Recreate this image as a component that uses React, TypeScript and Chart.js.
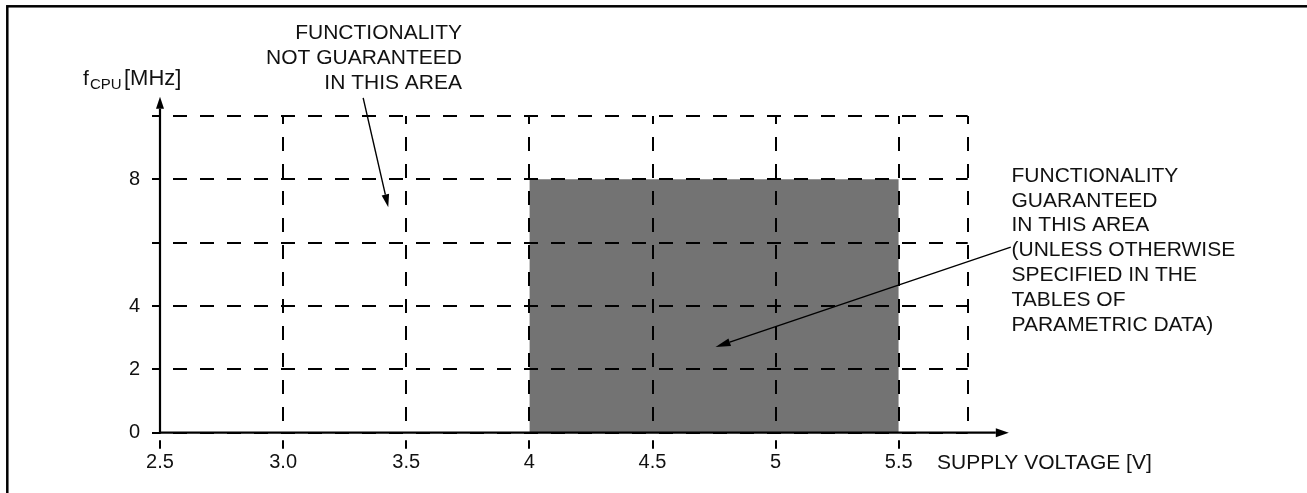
import React, { useEffect, useRef } from "react";
import { Chart, registerables } from "chart.js";

Chart.register(...registerables);

// ---- data ----
const xTickValues = [2.5, 3.0, 3.5, 4, 4.5, 5, 5.5, 5.78];
const xTickLabels = ["2.5", "3.0", "3.5", "4", "4.5", "5", "5.5", ""];
const yTickValues = [0, 2, 4, 6, 8, 10];
const yTickLabels = ["0", "2", "4", "", "8", ""];
const guaranteedVoltage = [4, 5.5];
const guaranteedFreq = [8, 8];
const xAxisEnd = 5.947;
const yAxisEnd = 10.61;
const notGuaranteedText = ["FUNCTIONALITY", "NOT GUARANTEED", "IN THIS AREA"];
const guaranteedText = [
  "FUNCTIONALITY",
  "GUARANTEED",
  "IN THIS AREA",
  "(UNLESS OTHERWISE",
  "SPECIFIED IN THE",
  "TABLES OF",
  "PARAMETRIC DATA)",
];
const notGuaranteedArrow = [
  [3.325, 10.57],
  [3.427, 7.12],
];
const guaranteedArrow = [
  [5.955, 5.86],
  [4.756, 2.706],
];

const FONT = "'Liberation Sans', Arial, Helvetica, sans-serif";
const INK = "#111";

function arrow(ctx: CanvasRenderingContext2D, x1: number, y1: number, x2: number, y2: number, len: number, hw: number, lw: number) {
  const a = Math.atan2(y2 - y1, x2 - x1);
  const bx = x2 - Math.cos(a) * len;
  const by = y2 - Math.sin(a) * len;
  ctx.save();
  ctx.strokeStyle = "#000";
  ctx.fillStyle = "#000";
  ctx.lineWidth = lw;
  ctx.setLineDash([]);
  ctx.beginPath();
  ctx.moveTo(x1, y1);
  ctx.lineTo(bx, by);
  ctx.stroke();
  ctx.beginPath();
  ctx.moveTo(x2, y2);
  ctx.lineTo(bx + Math.sin(a) * hw, by - Math.cos(a) * hw);
  ctx.lineTo(bx - Math.sin(a) * hw, by + Math.cos(a) * hw);
  ctx.closePath();
  ctx.fill();
  ctx.restore();
}

const decorPlugin = {
  id: "decor",
  afterDraw(chart: any) {
    const ctx: CanvasRenderingContext2D = chart.ctx;
    const xs = chart.scales.x;
    const ys = chart.scales.y;
    ctx.save();
    // frame
    ctx.strokeStyle = "#000";
    ctx.lineWidth = 2.5;
    ctx.setLineDash([]);
    ctx.strokeRect(7.3, 6.3, 1320, 520);

    // axes
    const x0 = xs.getPixelForValue(xTickValues[0]);
    const y0 = ys.getPixelForValue(0);
    const xe = xs.getPixelForValue(xAxisEnd);
    const ye = ys.getPixelForValue(yAxisEnd);
    arrow(ctx, x0 - 1, y0, xe, y0, 13, 4.5, 2.2);
    arrow(ctx, x0, y0 + 1, x0, ye, 12, 4, 2.2);

    // x tick marks (short dash below the axis, labelled ticks only)
    ctx.strokeStyle = "#000";
    ctx.lineWidth = 2;
    xTickValues.forEach((v, i) => {
      if (!xTickLabels[i]) return;
      const px = Math.round(xs.getPixelForValue(v));
      ctx.beginPath();
      ctx.moveTo(px, y0 + 7.5);
      ctx.lineTo(px, y0 + 16);
      ctx.stroke();
    });

    // axis titles
    ctx.fillStyle = INK;
    ctx.textBaseline = "middle";
    ctx.textAlign = "left";
    ctx.font = `21px ${FONT}`;
    ctx.fillText("f", 83, 79);
    ctx.font = `15px ${FONT}`;
    ctx.fillText("CPU", 90, 85);
    ctx.font = `22px ${FONT}`;
    ctx.fillText("[MHz]", 124, 79);
    ctx.font = `21px ${FONT}`;
    ctx.fillText("SUPPLY VOLTAGE [V]", 937, 463);

    // annotations
    ctx.textAlign = "right";
    notGuaranteedText.forEach((t, i) => ctx.fillText(t, 462, 33 + i * 25));
    ctx.textAlign = "left";
    guaranteedText.forEach((t, i) => ctx.fillText(t, 1011.5, 176 + i * 24.8));

    const p = (v: number[]) => [xs.getPixelForValue(v[0]), ys.getPixelForValue(v[1])];
    const [a1, a2] = notGuaranteedArrow.map(p);
    arrow(ctx, a1[0], a1[1], a2[0], a2[1], 13, 3.8, 1.4);
    const [b1, b2] = guaranteedArrow.map(p);
    arrow(ctx, b1[0], b1[1], b2[0], b2[1], 15, 4, 1.4);
    ctx.restore();
  },
};

export default function App() {
  const ref = useRef<HTMLCanvasElement>(null);
  useEffect(() => {
    if (!ref.current) return;
    const chart = new Chart(ref.current, {
      type: "line",
      data: {
        datasets: [
          {
            data: guaranteedVoltage.map((x, i) => ({ x, y: guaranteedFreq[i] })),
            fill: "origin",
            backgroundColor: "#737373",
            borderWidth: 0,
            pointRadius: 0,
            tension: 0,
          },
        ],
      },
      options: {
        animation: false,
        responsive: false,
        devicePixelRatio: 1,
        layout: { padding: { top: 116, right: 1307 - 967.7, bottom: 0, left: 0 } },
        plugins: { legend: { display: false }, tooltip: { enabled: false } },
        scales: {
          x: {
            type: "linear",
            position: "bottom",
            min: xTickValues[0],
            max: xTickValues[xTickValues.length - 1],
            afterBuildTicks: (s: any) => {
              s.ticks = xTickValues.map((v) => ({ value: v }));
            },
            afterFit: (s: any) => {
              s.height = 493 - 432.7;
            },
            ticks: {
              autoSkip: false,
              maxRotation: 0,
              padding: 2,
              color: INK,
              font: { family: FONT, size: 20 },
              callback: (_v: any, i: number) => xTickLabels[i],
            },
            grid: {
              z: 1,
              color: "#000",
              lineWidth: 2,
              tickLength: 16,
              tickColor: "rgba(0,0,0,0)",
            },
            border: { display: false, dash: [14, 13], dashOffset: 6 },
          },
          y: {
            type: "linear",
            min: 0,
            max: 10,
            afterBuildTicks: (s: any) => {
              s.ticks = yTickValues.map((v) => ({ value: v }));
            },
            afterFit: (s: any) => {
              s.width = 160;
            },
            ticks: {
              autoSkip: false,
              padding: 12,
              color: INK,
              font: { family: FONT, size: 20 },
              callback: (_v: any, i: number) => yTickLabels[i],
            },
            grid: {
              z: 1,
              color: "#000",
              lineWidth: 2,
              tickLength: 8,
              tickWidth: 2,
            },
            border: { display: false, dash: [14, 13], dashOffset: 14 },
          },
        },
      } as any,
      plugins: [decorPlugin],
    });
    return () => chart.destroy();
  }, []);
  return (
    <div style={{ position: "fixed", left: 0, top: 0, width: 1307, height: 493, background: "#fff" }}>
      <canvas ref={ref} width={1307} height={493} style={{ display: "block" }} />
    </div>
  );
}
